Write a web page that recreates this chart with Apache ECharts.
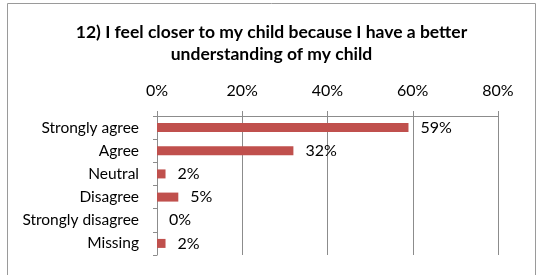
<!DOCTYPE html>
<html>
<head>
<meta charset="utf-8">
<script src="https://cdn.jsdelivr.net/npm/echarts@6/dist/echarts.min.js"></script>
<style>
  html, body { margin: 0; padding: 0; background: #fff; }
  #main { width: 543px; height: 275px; }
</style>
</head>
<body>
<div id="main"></div>
<script>
// categories, top to bottom
const categories = ["Strongly agree", "Agree", "Neutral", "Disagree", "Strongly disagree", "Missing"];
// percent of responses
const values = [59, 32, 2, 5, 0, 2];
const xTicks = [0, 20, 40, 60, 80];

const FONT = "Lato";
const GRID = "#8c8c8c";

let myChart = echarts.init(document.getElementById("main"));
myChart.setOption({
  animation: false,
  backgroundColor: "#fff",
  title: {
    text: "12) I feel closer to my child because I have a better\nunderstanding of my child",
    left: "center",
    top: 16,
    textStyle: {
      fontFamily: FONT,
      fontWeight: "bold",
      fontSize: 17.5,
      lineHeight: 22,
      color: "#000",
    },
  },
  // outer frame (bottom edge is cut off in the picture)
  graphic: [
    {
      type: "rect",
      shape: { x: 7.5, y: 3.5, width: 528, height: 300 },
      style: { fill: "none", stroke: "#9a9a9a", lineWidth: 1 },
      silent: true,
    },
  ],
  grid: {
    left: 157,
    right: 45,
    top: 116,
    bottom: 20,
    containLabel: false,
  },
  xAxis: {
    type: "value",
    position: "top",
    min: xTicks[0],
    max: xTicks[xTicks.length - 1],
    interval: 20,
    axisLine: { show: true, lineStyle: { color: GRID } },
    axisTick: { show: true, length: 5, lineStyle: { color: GRID } },
    splitLine: { show: true, lineStyle: { color: GRID } },
    axisLabel: {
      formatter: "{value}%",
      fontFamily: FONT,
      fontSize: 16,
      color: "#000",
      margin: 17,
    },
  },
  yAxis: {
    type: "category",
    inverse: true,
    data: categories,
    axisLine: { show: true, lineStyle: { color: GRID } },
    axisTick: { show: true, length: 4, lineStyle: { color: GRID } },
    axisLabel: {
      fontFamily: FONT,
      fontSize: 15.5,
      color: "#000",
      margin: 18,
    },
  },
  series: [
    {
      type: "bar",
      data: values,
      barWidth: 9,
      itemStyle: { color: "#c0504d" },
      label: {
        show: true,
        position: "right",
        distance: 12,
        formatter: "{c}%",
        fontFamily: FONT,
        fontSize: 16,
        color: "#000",
      },
    },
  ],
});
</script>
</body>
</html>
